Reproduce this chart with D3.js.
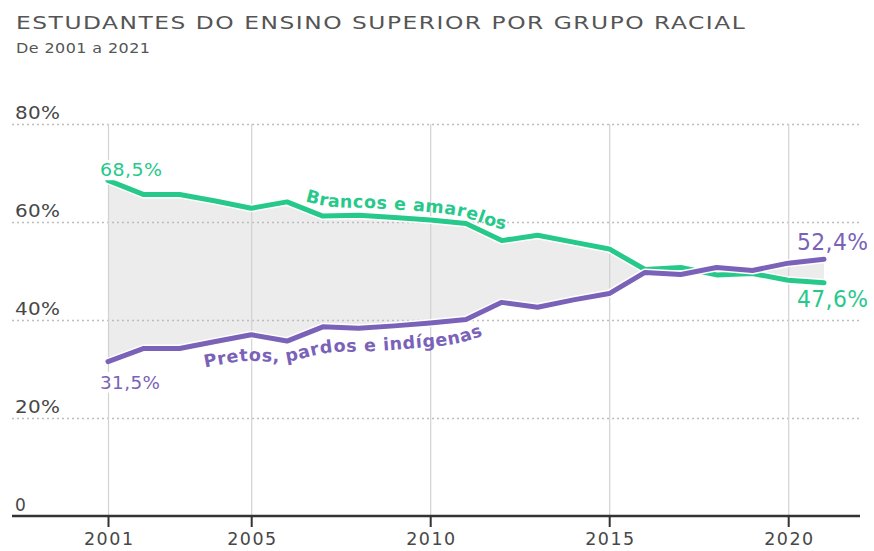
<!DOCTYPE html>
<html><head><meta charset="utf-8">
<script src="https://cdn.jsdelivr.net/npm/d3@7"></script>
<style>
body{margin:0;background:#fff;}
svg{display:block;font-family:"DejaVu Sans",sans-serif;}
</style></head><body>
<svg id="c" width="874" height="551"></svg>
<script>
const years   = [2001,2002,2003,2004,2005,2006,2007,2008,2009,2010,2011,2012,2013,2014,2015,2016,2017,2018,2019,2020,2021];
const brancos = [68.5,65.6,65.6,64.3,62.8,64.1,61.2,61.4,60.9,60.4,59.7,56.2,57.3,55.9,54.5,50.3,50.7,49.2,49.5,48.1,47.6];
const pretos  = [31.5,34.2,34.2,35.6,37.0,35.7,38.6,38.3,38.8,39.4,40.1,43.6,42.6,44.1,45.4,49.7,49.3,50.7,50.1,51.6,52.4];
const yTicks = [0,20,40,60,80];
const yTickLabels = ["0","20%","40%","60%","80%"];
const xTicks = [2001,2005,2010,2015,2020];
const xTickLabels = ["2001","2005","2010","2015","2020"];
const title = "ESTUDANTES DO ENSINO SUPERIOR POR GRUPO RACIAL";
const subtitle = "De 2001 a 2021";
const nameBrancos = "Brancos e amarelos";
const namePretos = "Pretos, pardos e indígenas";
const startLabels = ["68,5%","31,5%"];
const endLabels = ["47,6%","52,4%"];

const GREEN = "#27c98b", PURPLE = "#7a62b8", TXT = "#474747";
const svg = d3.select("#c");
const x = d3.scaleLinear().domain([2001,2021]).range([108,824]);
const y = d3.scaleLinear().domain([0,80]).range([516,124]);
const L = 12, R = 860;

// fit by small spacing + horizontal scaling around the text's anchor x
function fitScale(sel, w, ls){
  sel.attr("letter-spacing", ls);
  const len = sel.node().getComputedTextLength() - ls;
  const k = w/len, x0 = +sel.attr("x");
  sel.attr("transform", `translate(${x0},0) scale(${k.toFixed(4)},1) translate(${-x0},0)`);
}

// title
svg.append("text").attr("x",16).attr("y",29).attr("font-size",18.5).attr("fill","#555")
  .text(title).call(s=>fitScale(s,729,1.2));
svg.append("text").attr("x",16).attr("y",53).attr("font-size",14.5).attr("fill","#555")
  .text(subtitle).call(s=>fitScale(s,134,0.4));

const data = years.map((yr,i)=>({yr, b:brancos[i], p:pretos[i]}));

// area
svg.append("path").datum(data)
  .attr("d", d3.area().x(d=>x(d.yr)).y0(d=>y(d.p)).y1(d=>y(d.b)))
  .attr("fill","#ececec");

// horizontal dotted gridlines
const gy = svg.append("g").attr("transform",`translate(${L},0)`)
  .call(d3.axisLeft(y).tickValues(yTicks.filter(v=>v>0)).tickSize(-(R-L)).tickFormat(""));
gy.select(".domain").remove();
gy.selectAll("line").attr("stroke","#bdbdbd").attr("stroke-width",1.5).attr("stroke-dasharray","2,3");

// vertical gridlines
const gx = svg.append("g").attr("transform",`translate(0,${y(0)})`)
  .call(d3.axisBottom(x).tickValues(xTicks).tickSize(-(y(0)-y(80))).tickFormat(""));
gx.select(".domain").remove();
gx.selectAll("line").attr("stroke","#d2d2d2").attr("stroke-width",1.2);

// y labels
svg.append("g").selectAll("text").data(yTicks).join("text")
  .attr("x",15).attr("y",d=>y(d)-5).attr("font-size",17).attr("fill",TXT)
  .text((d,i)=>yTickLabels[i])
  .each(function(d){ if(d>0) fitScale(d3.select(this),45,0.3); });

// x axis
svg.append("line").attr("x1",L).attr("x2",R).attr("y1",y(0)).attr("y2",y(0))
  .attr("stroke","#333").attr("stroke-width",2.5);
const ax = svg.append("g").attr("transform",`translate(0,${y(0)})`)
  .call(d3.axisBottom(x).tickValues(xTicks).tickSize(11).tickFormat((d,i)=>xTickLabels[i]));
ax.select(".domain").remove();
ax.selectAll("line").attr("stroke","#333").attr("stroke-width",2);
ax.selectAll("text").attr("font-size",17.5).attr("fill",TXT).attr("font-family","'DejaVu Sans',sans-serif")
  .attr("dy",null).attr("y",29).attr("letter-spacing",1.5).attr("dx",0.75);

// lines
function drawLine(key,color){
  const gen = d3.line().x(d=>x(d.yr)).y(d=>y(d[key]));
  svg.append("path").datum(data).attr("d",gen).attr("fill","none")
    .attr("stroke","#fff").attr("stroke-width",8).attr("stroke-linejoin","round");
  svg.append("path").datum(data).attr("d",gen).attr("fill","none")
    .attr("stroke",color).attr("stroke-width",5).attr("stroke-linejoin","round").attr("stroke-linecap","round");
}
drawLine("b",GREEN);
drawLine("p",PURPLE);

// start labels (white box hides gridline behind)
function label(txt,xx,yy,size,color,w){
  const t = svg.append("text").attr("x",xx).attr("y",yy).attr("font-size",size)
    .attr("fill",color).text(txt);
  fitScale(t,w,0.4);
  const bb = t.node().getBBox();
  svg.insert("rect", ()=>t.node()).attr("x",xx-2).attr("y",bb.y).attr("width",w+4).attr("height",bb.height).attr("fill","#fff");
  return t;
}
label(startLabels[0], x(2001)-8, y(brancos[0])-4, 18, GREEN, 62);
label(startLabels[1], x(2001)-8, y(pretos[0])+27, 18, PURPLE, 60);
svg.append("text").attr("x",x(2021)-27).attr("y",y(pretos[20])-9).attr("font-size",23.5)
  .attr("fill",PURPLE).text(endLabels[1]).call(s=>fitScale(s,71,0.4));
svg.append("text").attr("x",x(2021)-27).attr("y",y(brancos[20])+24).attr("font-size",23.5)
  .attr("fill",GREEN).text(endLabels[0]).call(s=>fitScale(s,71,0.4));

// series names along paths
function lengthAtX(path, tx){
  const tot = path.getTotalLength();
  let lo=0, hi=tot;
  for(let k=0;k<40;k++){ const m=(lo+hi)/2; if(path.getPointAtLength(m).x<tx) lo=m; else hi=m; }
  return lo;
}
const defs = svg.append("defs");
function pathLabel(id,key,fromYr,toYr,off,x0,x1,txt,color,size){
  const pts = data.filter(d=>d.yr>=fromYr && d.yr<=toYr);
  const p = defs.append("path").attr("id",id)
    .attr("d", d3.line().curve(d3.curveBasis).x(d=>x(d.yr)).y(d=>y(d[key])+off)(pts));
  const node = p.node();
  const s0 = lengthAtX(node,x0), s1 = lengthAtX(node,x1);
  const t = svg.append("text").attr("font-size",size).attr("font-weight",700).attr("fill",color);
  t.append("textPath").attr("href","#"+id).attr("startOffset",s0).text(txt);
  const len = t.node().getComputedTextLength();
  t.attr("letter-spacing", ((s1-s0-len)/(txt.length-1)).toFixed(3));
}
pathLabel("pb","b",2004,2014,-8,305,505,nameBrancos,GREEN,17.5);
pathLabel("pp","p",2002,2013,24,205,483,namePretos,PURPLE,17.5);
</script>
</body></html>
